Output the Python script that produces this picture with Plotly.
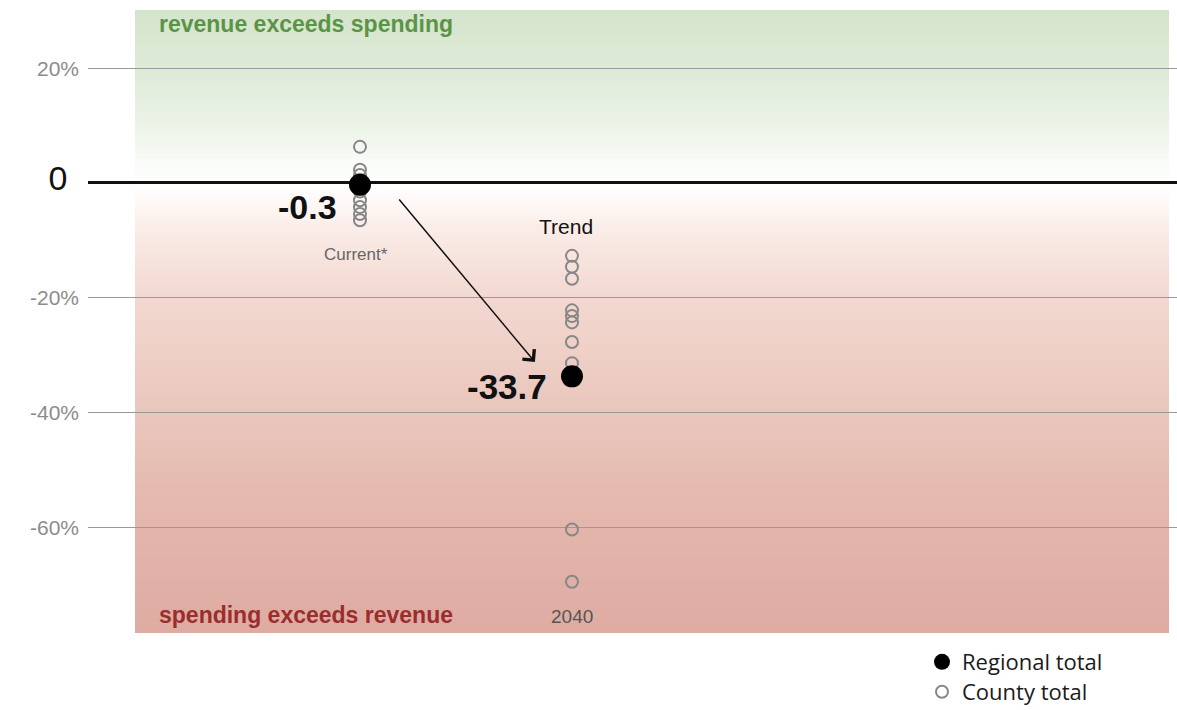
import numpy as np
import plotly.graph_objects as go

# ---------------- data ----------------
period_labels = ["Current*", "2040"]
period_pos = [0, 1]
regional_total = [-0.3, -33.7]
value_labels = ["-0.3", "-33.7"]
county_current = [6.3, 2.3, 1.4, 0.5, -0.8, -1.5, -3.0, -4.2, -5.4, -6.5]
county_2040 = [-12.7, -14.6, -16.7, -22.2, -23.2, -24.3, -27.7, -31.4, -60.4, -69.5]
tick_vals = [-60, -40, -20, 0, 20]
tick_labels = ["-60%", "-40%", "-20%", "0", "20%"]

# ---------------- layout constants ----------------
W, H = 1177, 710
ML, MR, MT, MB = 88, 0, 10, 77
Y_RANGE = [-78.43, 30.15]
X_RANGE = [-1.283, 3.854]
PW = W - ML - MR


def xpaper(px):
    return (px - ML) / PW


# background gradient stops (value on y axis -> rgb)
grad_y = [30.15, 20, 10, 4, 0, -3, -8, -20, -40, -60, -78.43]
grad_c = [(213, 228, 204), (222, 234, 214), (236, 243, 232), (248, 251, 246),
          (255, 255, 255), (254, 250, 248), (250, 236, 231), (242, 216, 208),
          (234, 198, 188), (227, 181, 171), (222, 171, 162)]

fig = go.Figure()

# gradient bands
n_bands = 160
edges = np.linspace(Y_RANGE[0], Y_RANGE[1], n_bands + 1)
step = edges[1] - edges[0]
gy = np.array(grad_y[::-1])
gc = np.array(grad_c[::-1], dtype=float)
for i in range(n_bands):
    mid = 0.5 * (edges[i] + edges[i + 1])
    col = [np.interp(mid, gy, gc[:, k]) for k in range(3)]
    fig.add_shape(type="rect", xref="paper", yref="y",
                  x0=xpaper(135), x1=xpaper(1169), y0=edges[i],
                  y1=min(edges[i + 1] + 0.6 * step, Y_RANGE[1]),
                  fillcolor="rgb(%d,%d,%d)" % tuple(int(round(c)) for c in col),
                  line_width=0, layer="below")

# county totals (open circles)
fig.add_trace(go.Scatter(
    x=[period_pos[0]] * len(county_current) + [period_pos[1]] * len(county_2040),
    y=county_current + county_2040,
    mode="markers", name="County total", legend="legend2",
    marker=dict(symbol="circle", size=12, color="rgba(0,0,0,0)",
                line=dict(color="#878787", width=2)),
    hoverinfo="y"))

# regional totals
fig.add_trace(go.Scatter(
    x=period_pos, y=regional_total, mode="markers", name="Regional total", legend="legend",
    marker=dict(symbol="circle", size=22, color="#000000"),
    hoverinfo="y"))

tick_text = []
for v, t in zip(tick_vals, tick_labels):
    if v == 0:
        tick_text.append("<span style='font-size:34px;color:#111111'>%s</span>&nbsp;&nbsp;" % t)
    else:
        tick_text.append(t)

annotations = []
# value labels
annotations.append(dict(x=period_pos[0], y=regional_total[0], text="<b>%s</b>" % value_labels[0],
                        showarrow=False, xanchor="right", yanchor="middle", xshift=-21, yshift=-22,
                        font=dict(family="Liberation Sans", size=34, color="#111111")))
annotations.append(dict(x=period_pos[1], y=regional_total[1], text="<b>%s</b>" % value_labels[1],
                        showarrow=False, xanchor="right", yanchor="middle", xshift=-23, yshift=-10,
                        font=dict(family="Liberation Sans", size=35, color="#111111")))
# period labels
annotations.append(dict(x=period_pos[0], y=-12.5, text=period_labels[0], showarrow=False,
                        xanchor="center", yanchor="middle", xshift=-4,
                        font=dict(family="Liberation Sans", size=17, color="#666666")))
annotations.append(dict(x=period_pos[1], y=-7.5, text="Trend", showarrow=False,
                        xanchor="center", yanchor="middle", xshift=-6,
                        font=dict(family="Liberation Sans", size=21, color="#111111")))
annotations.append(dict(x=period_pos[1], y=-75.6, text=period_labels[1], showarrow=False,
                        xanchor="center", yanchor="middle",
                        font=dict(family="Liberation Sans", size=19, color="#555555")))
# region captions
annotations.append(dict(x=xpaper(157), xref="paper", y=27.7, text="<b>revenue exceeds spending</b>",
                        showarrow=False, xanchor="left", yanchor="middle",
                        font=dict(family="Liberation Sans", size=23, color="#5a9447")))
annotations.append(dict(x=xpaper(157), xref="paper", y=-75.3, text="<b>spending exceeds revenue</b>",
                        showarrow=False, xanchor="left", yanchor="middle",
                        font=dict(family="Liberation Sans", size=23, color="#9a2d2d")))
# arrow from current to trend
annotations.append(dict(x=0.825, y=-31.2, ax=0.179, ay=-2.6, axref="x", ayref="y",
                        text="", showarrow=True, arrowhead=4, arrowsize=2, arrowwidth=1.5,
                        arrowcolor="#111111", standoff=0))

legend_style = dict(xanchor="left", yanchor="middle", xref="container", yref="container",
                    bgcolor="rgba(0,0,0,0)", borderwidth=0,
                    font=dict(family="Open Sans", size=22, color="#1a1a1a"),
                    itemsizing="trace")

fig.update_layout(
    width=W, height=H,
    margin=dict(l=ML, r=MR, t=MT, b=MB, pad=0, autoexpand=False),
    paper_bgcolor="white", plot_bgcolor="rgba(0,0,0,0)",
    xaxis=dict(range=X_RANGE, showgrid=False, zeroline=False, showticklabels=False,
               showline=False, fixedrange=True),
    yaxis=dict(range=Y_RANGE, tickvals=tick_vals, ticktext=tick_text,
               showgrid=True, gridcolor="#999999", gridwidth=1.4,
               zeroline=True, zerolinecolor="#111111", zerolinewidth=2.5,
               showline=False, ticks="", ticklabelstandoff=8,
               tickfont=dict(family="Liberation Sans", size=21, color="#8c8c8c"),
               fixedrange=True),
    showlegend=True,
    legend=dict(x=(922) / W, y=1 - 662 / H, **legend_style),
    legend2=dict(x=(922) / W, y=1 - 692 / H, **legend_style),
    annotations=annotations,
)

fig.write_html("out.html", config={"displayModeBar": False},
               post_script="document.body.style.margin='0';")
